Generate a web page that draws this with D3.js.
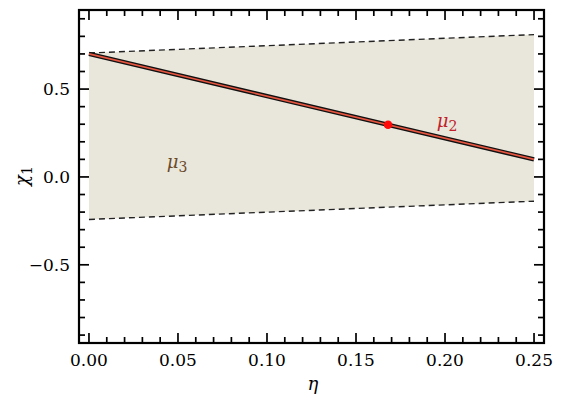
<!DOCTYPE html>
<html>
<head>
<meta charset="utf-8">
<script src="https://cdn.jsdelivr.net/npm/d3@7"></script>
<style>
  body { margin: 0; background: #fff; }
  text { font-family: "DejaVu Serif", serif; }
</style>
</head>
<body>
<div id="chart"></div>
<script>
// data
const etaEnds = [0, 0.25]
const upperBound = [0.705, 0.81]
const lowerBound = [-0.242, -0.138]
const mu2Line = [0.70, 0.10]
const mu2Point = [0.168, 0.297]
const xTicks = [0, 0.05, 0.10, 0.15, 0.20, 0.25]
const yTicks = [-0.5, 0, 0.5]

const width = 569
const height = 400
const pLeft = 79, pRight = 544, pTop = 10, pBottom = 343

const svg = d3.select('#chart')
  .append('svg')
  .attr('width', width)
  .attr('height', height)

const x = d3.scaleLinear().domain([-0.0056, 0.2556]).range([pLeft, pRight])
const y = d3.scaleLinear().domain([-0.945, 0.95]).range([pBottom, pTop])

// shaded region between the dashed bounds
const band = etaEnds.map((e, i) => ({ e, lo: lowerBound[i], hi: upperBound[i] }))
svg.append('path')
  .datum(band)
  .attr('fill', '#e9e7dc')
  .attr('d', d3.area().x(d => x(d.e)).y0(d => y(d.lo)).y1(d => y(d.hi)))

const line = d3.line().x(d => x(d[0])).y(d => y(d[1]))

// dashed bounds
;[upperBound, lowerBound].forEach(b => {
  svg.append('path')
    .datum(etaEnds.map((e, i) => [e, b[i]]))
    .attr('fill', 'none')
    .attr('stroke', '#222')
    .attr('stroke-width', 1.4)
    .attr('stroke-dasharray', '6,4')
    .attr('d', line)
})

// mu2 line: black outline with red inner
const mu2 = etaEnds.map((e, i) => [e, mu2Line[i]])
svg.append('path').datum(mu2)
  .attr('fill', 'none').attr('stroke', '#111').attr('stroke-width', 4.4)
  .attr('d', line)
svg.append('path').datum(mu2)
  .attr('fill', 'none').attr('stroke', '#e5553f').attr('stroke-width', 1.7)
  .attr('d', line)

svg.append('circle')
  .attr('cx', x(mu2Point[0]))
  .attr('cy', y(mu2Point[1]))
  .attr('r', 4.3)
  .attr('fill', '#ff0a0a')

// region labels
svg.append('text')
  .attr('x', 447).attr('y', 127)
  .attr('text-anchor', 'middle')
  .attr('fill', '#c0202a')
  .style('font-size', '18px')
  .html('<tspan font-style="italic">μ</tspan><tspan dy="4" font-size="14px">2</tspan>')

svg.append('text')
  .attr('x', 177).attr('y', 168)
  .attr('text-anchor', 'middle')
  .attr('fill', '#6b4a2a')
  .style('font-size', '18px')
  .html('<tspan font-style="italic">μ</tspan><tspan dy="4" font-size="14px">3</tspan>')

// frame
svg.append('rect')
  .attr('x', pLeft).attr('y', pTop)
  .attr('width', pRight - pLeft).attr('height', pBottom - pTop)
  .attr('fill', 'none').attr('stroke', '#000').attr('stroke-width', 2.2)

// ticks on all four sides, pointing inward
const minorX = d3.range(0, 0.2501, 0.01)
const minorY = d3.range(-0.9, 0.9001, 0.1)
const isMajor = (v, arr) => arr.some(t => Math.abs(t - v) < 1e-6)

const tickG = svg.append('g').attr('stroke', '#000').attr('stroke-width', 1.7)
minorX.forEach(v => {
  const len = isMajor(v, xTicks) ? 10 : 6
  tickG.append('line').attr('x1', x(v)).attr('x2', x(v)).attr('y1', pBottom).attr('y2', pBottom - len)
  tickG.append('line').attr('x1', x(v)).attr('x2', x(v)).attr('y1', pTop).attr('y2', pTop + len)
})
minorY.forEach(v => {
  const len = isMajor(v, yTicks) ? 10 : 6
  tickG.append('line').attr('y1', y(v)).attr('y2', y(v)).attr('x1', pLeft).attr('x2', pLeft + len)
  tickG.append('line').attr('y1', y(v)).attr('y2', y(v)).attr('x1', pRight).attr('x2', pRight - len)
})

// tick labels
svg.append('g').selectAll('text')
  .data(xTicks)
  .enter()
  .append('text')
  .attr('x', d => x(d))
  .attr('y', 366)
  .attr('text-anchor', 'middle')
  .style('font-size', '17px')
  .text(d => d3.format('.2f')(d))

svg.append('g').selectAll('text')
  .data(yTicks)
  .enter()
  .append('text')
  .attr('x', 70)
  .attr('y', d => y(d) + 6)
  .attr('text-anchor', 'end')
  .style('font-size', '17px')
  .text(d => d3.format('.1f')(d).replace('-', '−'))

// axis titles
svg.append('text')
  .attr('x', 313).attr('y', 390)
  .attr('text-anchor', 'middle')
  .style('font-size', '18px')
  .style('font-style', 'italic')
  .text('η')

svg.append('text')
  .attr('transform', 'translate(28,176) rotate(-90)')
  .attr('text-anchor', 'middle')
  .style('font-size', '18px')
  .html('<tspan font-style="italic">χ</tspan><tspan dy="4" font-size="14px">1</tspan>')
</script>
</body>
</html>
